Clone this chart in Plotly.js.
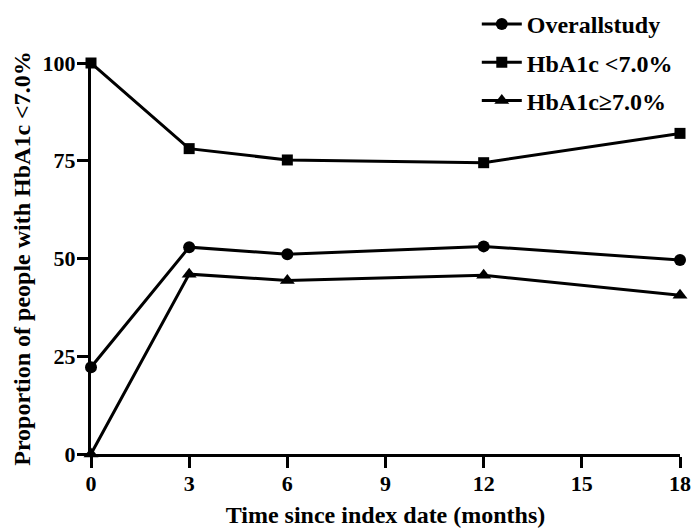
<!DOCTYPE html>
<html><head><meta charset="utf-8">
<script src="https://cdn.plot.ly/plotly-3.0.1.min.js"></script>
<style>html,body{margin:0;padding:0;background:#fff}</style>
</head><body>
<div id="chart" style="width:691px;height:529px"></div>
<script>
var months = [0, 3, 6, 12, 18];
var overall = [22.2, 52.9, 51.1, 53.1, 49.6];
var below7 = [100, 78.1, 75.2, 74.5, 82.0];
var above7 = [0, 46.0, 44.4, 45.7, 40.6];
var seriesNames = ['Overallstudy', 'HbA1c <7.0%', 'HbA1c\u22657.0%'];
var xTicks = [0, 3, 6, 9, 12, 15, 18];
var yTicks = [0, 25, 50, 75, 100];

var fontFam = '"Liberation Serif", "Times New Roman", serif';
function tr(y, name, sym, size, grp) {
  return {x: months, y: y, name: name, type: 'scatter', mode: 'lines+markers',
    legendgroup: grp,
    line: {color: '#000', width: 3},
    marker: {symbol: sym, size: size, color: '#000'},
    cliponaxis: false};
}
var data = [
  tr(overall, seriesNames[0], 'circle', 12, 'a'),
  tr(below7, seriesNames[1], 'square', 11, 'b'),
  tr(above7, seriesNames[2], 'triangle-up', 13, 'c')
];
var layout = {
  width: 691, height: 529,
  margin: {l: 91, r: 11, t: 63, b: 75, autoexpand: false},
  paper_bgcolor: '#fff', plot_bgcolor: '#fff',
  font: {family: fontFam, color: '#000', size: 22},
  showlegend: true,
  legend: {x: 0.655, xanchor: 'left', y: 1.156, yanchor: 'top',
    traceorder: 'grouped', tracegroupgap: 4,
    font: {family: fontFam, size: 24, color: '#000', weight: 'bold'},
    itemwidth: 40, bgcolor: 'rgba(0,0,0,0)'},
  xaxis: {range: [0, 18], tickvals: xTicks, ticktext: xTicks.map(String), automargin: false,
    showgrid: false, zeroline: false, showline: true, linecolor: '#000', linewidth: 3,
    ticks: 'outside', ticklen: 11, tickwidth: 3, tickcolor: '#000', ticklabelstandoff: -3,
    tickfont: {family: fontFam, size: 22, weight: 'bold'},
    title: {text: 'Time since index date (months)', font: {family: fontFam, size: 24, weight: 'bold'}, standoff: 11}},
  yaxis: {range: [0, 100], tickvals: yTicks, ticktext: yTicks.map(String), automargin: false,
    showgrid: false, zeroline: false, showline: true, linecolor: '#000', linewidth: 3,
    ticks: 'outside', ticklen: 11, tickwidth: 3, tickcolor: '#000', ticklabelstandoff: -3,
    tickfont: {family: fontFam, size: 22, weight: 'bold'},
    title: {text: 'Proportion of people with HbA1c <7.0%', font: {family: fontFam, size: 24, weight: 'bold'}, standoff: 6}}
};
Plotly.newPlot('chart', data, layout, {displayModeBar: false, staticPlot: true});
</script>
</body></html>
